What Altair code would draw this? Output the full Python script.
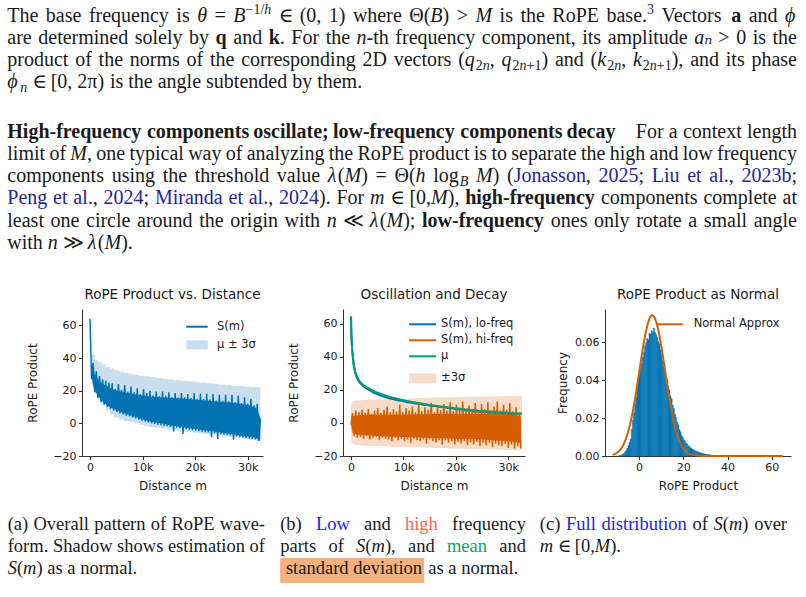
import altair as alt
import pandas as pd

SANS = "DejaVu Sans"
SERIF = "Liberation Serif, DejaVu Serif, serif"
INK = "#1a1a1a"
BLUE = "#0173B2"
ORANGE = "#D55E00"
GREEN = "#029E73"
BLUE_BAND = "#C9DFEE"
ORANGE_BAND = "#F7DCC8"

# ---------------- panel (a): RoPE product vs distance ----------------
s_vals = [64, 27, 37, 19, 32, 15.5, 29, 13, 27, 11.5,
          26, 10, 25, 9, 24.5, 7.8, 21, 7, 24, 6,
          20.5, 5.4, 23.5, 4.6, 19.5, 4.2, 22.5, 3.5, 19, 3.0,
          21.5, 2.2, 18, 1.6, 21, 1.2, 18.5, 0.6, 20, 0.0,
          17, -0.4, 19.5, -0.8, 16.5, -1.2, 19.5, -1.6, 16.8, -1.8,
          19, -2.2, 16, -5, 18.5, -2.7, 15.8, -3.0, 18.5, -6.5,
          16, -3.6, 18, -3.9, 15.5, -4.2, 18.5, -4.5, 15, -4.9,
          18.3, -5.1, 14.8, -5.4, 18.2, -5.6, 14.5, -8.5, 18, -6.1,
          14, -9.5, 17.5, -6.6, 13.8, -6.9, 17.5, -7.2, 13.5, -7.5,
          17.5, -10, 13, -8.1, 17, -8.4, 12.5, -8.7, 16, -8.9,
          12, -9.2, 15, -9.5, 11, -9.9, 12, -10.8, 3]
m_a = [i * 300 for i in range(len(s_vals))]

# dense (solid-looking) part of the S(m) waveform
core_a_m = [300, 600, 900, 1200, 1500, 2100, 2700, 3300, 4200, 5100, 6000, 7200, 8400,
            9600, 10800, 12000, 13500, 15000, 16500, 18000, 19500, 21000, 22500, 24000,
            25500, 27000, 28500, 30000, 31500, 32100, 32400]
core_a_hi = [36, 33, 30, 28.5, 27, 25, 23.5, 22.5, 21, 20, 19.5, 18.5, 17.8,
             17.2, 16.8, 16.3, 16, 15.6, 15.3, 15, 14.6, 14.2, 13.8, 13.4,
             13, 12.6, 12, 11.2, 9.5, 6, 3]
core_a_lo = [29, 23, 20, 18.5, 17, 14.5, 12.5, 11, 9.3, 8, 6.8, 5.4, 4.2,
             2.8, 1.8, 0.8, 0, -1, -1.8, -2.6, -3.2, -4, -4.6, -5.2,
             -5.9, -6.5, -7.4, -8.2, -8.9, -9.8, -10]

band_m = [300, 900, 1500, 2200, 3000, 3800, 4600, 5500, 6400, 7300, 8300, 9300,
          10300, 11400, 12500, 13600, 14800, 16000, 17200, 18400, 19600, 20800,
          22000, 23200, 24400, 25600, 26800, 28000, 29200, 30400, 31600, 32400]
band_hi = [42, 39, 37.5, 36, 34.5, 33.5, 32.5, 31.8, 31, 30.4, 29.8, 29.2,
           28.8, 28.3, 27.8, 27.3, 26.9, 26.4, 26.0, 25.7, 25.4, 25.0,
           24.6, 24.2, 23.8, 23.4, 23.0, 22.8, 22.5, 22.3, 22.1, 22.1]
band_lo = [24, 18, 14, 11, 8, 5.5, 3.5, 2.5, 1.5, 0.8, 0, -0.8,
           -1.6, -2.2, -2.7, -3.2, -3.8, -4.4, -5.0, -5.4, -5.8, -6.2,
           -6.6, -7.0, -7.5, -8.0, -8.5, -9.0, -9.6, -10.2, -10.8, -11.2]

# ---------------- panel (b): oscillation and decay ----------------
lo_m = [0, 50, 120, 200, 320, 500, 760, 1100, 1700, 2300, 3000, 3600, 4300, 5000,
        5700, 6400, 7400, 8200, 9000, 9800, 10600, 11400, 12200, 13000, 13800,
        14600, 15400, 16200, 17000, 17800, 18600, 19400, 20200, 21000, 21800,
        22600, 23300, 24100, 25000, 25800, 26500, 27300, 28000, 28800, 29700,
        30400, 31100, 31800, 32500]
lo_vals = [64.5, 56, 50, 45, 41, 35.5, 31, 27.5, 24.3, 22.4, 20.8, 19.8, 18.3, 17.6,
           16.4, 15.9, 14.8, 14.4, 13.6, 13.4, 12.6, 12.4, 11.8, 11.6, 11.0,
           10.9, 10.3, 10.2, 9.6, 9.5, 8.9, 8.8, 8.2, 8.1, 7.6,
           7.5, 7.0, 7.0, 6.6, 6.6, 6.2, 6.2, 5.9, 5.9, 5.6,
           5.6, 5.4, 5.4, 5.2]
mu_m = [0, 50, 120, 200, 320, 500, 760, 1100, 1700, 2300, 3000, 3800, 4600, 5500,
        6400, 7400, 8400, 9400, 10400, 11500, 12600, 13700, 14800, 16000, 17200,
        18400, 19600, 20800, 22000, 23200, 24400, 25600, 26800, 28000, 29200,
        30400, 31600, 32600]
mu_vals = [64.5, 56.5, 50.5, 45.5, 41.5, 36, 31.5, 28.2, 25, 23.2, 21.6, 20.2, 19, 17.8,
           16.8, 15.8, 15, 14.2, 13.5, 12.8, 12.2, 11.6, 11.0, 10.5, 10.0,
           9.5, 9.0, 8.6, 8.2, 7.8, 7.4, 7.1, 6.8, 6.5, 6.3,
           6.0, 5.8, 5.7]
hi_vals = [-1, 6, -8, 7.5, -9, 6.5, -8.5, 8, -9.5, 6,
           -8, 8.5, -10, 5.5, -9, 7.5, -8.5, 9, -10.5, 6,
           -9, 8, -9.5, 10, -10, 6.5, -11, 8.5, -9, 7,
           -10.5, 11, -9.5, 6.5, -11, 9, -10, 7.5, -12, 10,
           -9.5, 6.5, -10.5, 11.5, -11, 7, -10, 9.5, -12.5, 8,
           -10, 12, -11, 6.5, -12, 10, -10.5, 8, -13, 11.5,
           -10.5, 7.5, -12, 12.5, -11, 7, -13, 11, -11.5, 8.5,
           -12.5, 13, -11, 7.5, -13.5, 10.5, -12, 8, -13, 12,
           -11.5, 7, -14, 11.5, -12, 8.5, -13.5, 12.5, -12, 7.5,
           -14.5, 10, -12.5, 13, -13.5, 7.5, -14, 11, -12.5, 8,
           -15, 12, -13, 7, -15.5, 9.5, -14, 6, -15.5]
m_b = [i * 300 for i in range(len(hi_vals))]
# dense (solid-looking) part of the high-frequency waveform
core_b_m = [0, 300, 1000, 3000, 6000, 10000, 15000, 20000, 25000, 30000, 32400]
core_b_hi = [-1, 4, 4.5, 5, 5, 5, 5.5, 5.5, 5.5, 5.5, 4]
core_b_lo = [-1, -6, -7, -7.5, -8, -8.5, -9, -9.5, -10, -11, -12]
sig_m = [0, 80, 150, 250, 400, 600, 1000, 2000, 3000, 4500, 6000, 8000, 10000,
         12500, 15000, 17500, 20000, 22500, 25000, 27500, 30000, 32600]
sig_hi = [8.5, 10.5, 11.5, 12.2, 12.8, 13.2, 13.5, 13.8, 14.0, 14.2, 14.3, 14.5, 14.7,
          14.9, 15.2, 15.4, 15.6, 15.8, 16.0, 16.2, 16.4, 16.5]
sig_lo = [-8.5, -10.5, -11.5, -12.2, -12.7, -13.0, -13.3, -13.6, -13.8, -13.9, -14.0,
          -14.2, -14.5, -14.7, -15.0, -15.2, -15.5, -15.7, -15.9, -16.1, -16.3, -16.4]

# ---------------- panel (c): RoPE product as normal ----------------
hist_vals = [0.0002, 0.0004, 0.0006, 0.0010, 0.0015, 0.0022, 0.0030, 0.0042, 0.0056, 0.0072,
             0.0090, 0.0140, 0.0190, 0.0230, 0.0272, 0.0310, 0.0358, 0.0400, 0.0432, 0.0462,
             0.0488, 0.0522, 0.0548, 0.0581, 0.0598, 0.0621, 0.0612, 0.0648, 0.0641, 0.0662,
             0.0651, 0.0676, 0.0655, 0.0642, 0.0628, 0.0605, 0.0592, 0.0560, 0.0534, 0.0502,
             0.0472, 0.0450, 0.0418, 0.0402, 0.0368, 0.0349, 0.0318, 0.0302, 0.0268, 0.0251,
             0.0222, 0.0205, 0.0178, 0.0165, 0.0140, 0.0128, 0.0108, 0.0100, 0.0086, 0.0080,
             0.0068, 0.0064, 0.0054, 0.0051, 0.0043, 0.0041, 0.0034, 0.0033, 0.0028, 0.0027,
             0.0022, 0.0022, 0.0018, 0.0017, 0.0015, 0.0013, 0.0012, 0.0011, 0.0009, 0.0009,
             0.0007, 0.0007, 0.0006, 0.0005, 0.0004, 0.0004, 0.0003, 0.0003, 0.0002, 0.0002,
             0.0001]
hist_lo = [-9 + 0.5 * i for i in range(len(hist_vals))]
hist_hi = [v + 0.5 for v in hist_lo]
norm_x = [-12, -11, -10, -9, -8, -7, -6, -5, -4, -3, -2, -1, 0, 1, 2, 3, 4, 5, 6, 7, 8,
          9, 10, 11, 12, 13, 14, 15, 16, 17, 18, 19, 20, 21, 22, 24, 26, 30, 40, 50, 60, 65]
norm_y = [0.0006, 0.0010, 0.0017, 0.0026, 0.0040, 0.0060, 0.0088, 0.0123, 0.0168, 0.0223,
          0.0287, 0.0359, 0.0436, 0.0513, 0.0586, 0.0651, 0.0701, 0.0733, 0.0744, 0.0733,
          0.0701, 0.0651, 0.0586, 0.0513, 0.0436, 0.0359, 0.0287, 0.0223, 0.0168, 0.0123,
          0.0088, 0.0060, 0.0040, 0.0026, 0.0017, 0.0006, 0.0002, 0, 0, 0, 0, 0]

# ---------------- helpers ----------------
def title(t):
    return alt.TitleParams(text=t, font=SANS, fontSize=13.5, fontWeight="normal",
                           color=INK, anchor="middle", frame="group", offset=8)

def leg(x, y, path, offset):
    return alt.Legend(title=None, orient="none", legendX=x, legendY=y, symbolType=path,
                      symbolSize=324, symbolStrokeWidth=2, labelOffset=offset,
                      labelFont=SANS, labelFontSize=11.5, labelColor=INK,
                      padding=0, rowPadding=0, symbolOpacity=1)

K_LABEL = "datum.value == 0 ? '0' : format(datum.value / 1000, 'd') + 'k'"

def xdist(domain):
    return alt.X("m:Q", scale=alt.Scale(domain=domain, nice=False, zero=False),
                 axis=alt.Axis(values=[0, 10000, 20000, 30000], labelExpr=K_LABEL,
                               title="Distance m"))

def yrope(field, domain):
    return alt.Y(f"{field}:Q", scale=alt.Scale(domain=domain, nice=False, zero=False),
                 axis=alt.Axis(values=[-20, 0, 20, 40, 60], title="RoPE Product",
                               titlePadding=13))

LINE_A = "M-1.2,0H1.2"
RECT_A = "M-1.2,-0.5H1.2V0.5H-1.2Z"
LINE_B = "M-1.5,0H1.5"
RECT_B = "M-1.5,-0.55H1.5V0.55H-1.5Z"
LINE_C = "M-1.4,0H1.4"

# ---------------- panel (a) ----------------
D1X = [-1522, 32909]
D1Y = [-20, 70]
df_a = pd.DataFrame({"m": m_a, "v": s_vals, "k": "S(m)"})
df_ac = pd.DataFrame({"m": core_a_m, "hi": core_a_hi, "lo": core_a_lo})
df_ab = pd.DataFrame({"m": band_m, "hi": band_hi, "lo": band_lo, "k": "μ ± 3σ"})
a_band = alt.Chart(df_ab).mark_area(interpolate="step-after", opacity=1).encode(
    x=xdist(D1X), y=yrope("lo", D1Y), y2="hi:Q",
    fill=alt.Fill("k:N", scale=alt.Scale(domain=["μ ± 3σ"], range=[BLUE_BAND]),
                  legend=leg(105, 25.8, RECT_A, 10)))
a_core = alt.Chart(df_ac).mark_area(color=BLUE, opacity=1).encode(
    x=xdist(D1X), y=yrope("lo", D1Y), y2="hi:Q")
a_line = alt.Chart(df_a).mark_line(strokeWidth=1.5).encode(
    x=xdist(D1X), y=yrope("v", D1Y),
    stroke=alt.Stroke("k:N", scale=alt.Scale(domain=["S(m)"], range=[BLUE]),
                      legend=leg(105, 7.7, LINE_A, 10)))
p1 = alt.layer(a_band, a_core, a_line).properties(width=181, height=147,
                                                  title=title("RoPE Product vs. Distance"))

# ---------------- panel (b) ----------------
D2X = [-1526, 33187]
D2Y = [-20, 69]
SER = ["S(m), lo-freq", "S(m), hi-freq", "μ"]
stroke_b = dict(scale=alt.Scale(domain=SER, range=[BLUE, ORANGE, GREEN]),
                legend=leg(69.7, 5.3, LINE_B, 8.3))
df_sig = pd.DataFrame({"m": sig_m, "hi": sig_hi, "lo": sig_lo, "k": "±3σ"})
df_lo = pd.DataFrame({"m": lo_m, "v": lo_vals, "k": SER[0]})
df_hi = pd.DataFrame({"m": m_b, "v": hi_vals, "k": SER[1]})
df_bc = pd.DataFrame({"m": core_b_m, "hi": core_b_hi, "lo": core_b_lo})
df_mu = pd.DataFrame({"m": mu_m, "v": mu_vals, "k": SER[2]})
b_band = alt.Chart(df_sig).mark_area(opacity=1).encode(
    x=xdist(D2X), y=yrope("lo", D2Y), y2="hi:Q",
    fill=alt.Fill("k:N", scale=alt.Scale(domain=["±3σ"], range=[ORANGE_BAND]),
                  legend=leg(69.7, 59.3, RECT_B, 8.3)))
b_lo = alt.Chart(df_lo).mark_line(strokeWidth=2).encode(
    x=xdist(D2X), y=yrope("v", D2Y), stroke=alt.Stroke("k:N", **stroke_b))
b_core = alt.Chart(df_bc).mark_area(color=ORANGE, opacity=1).encode(
    x=xdist(D2X), y=yrope("lo", D2Y), y2="hi:Q")
b_hi = alt.Chart(df_hi).mark_line(strokeWidth=1.5).encode(
    x=xdist(D2X), y=yrope("v", D2Y), stroke=alt.Stroke("k:N", **stroke_b))
b_mu = alt.Chart(df_mu).mark_line(strokeWidth=2).encode(
    x=xdist(D2X), y=yrope("v", D2Y), stroke=alt.Stroke("k:N", **stroke_b))
p2 = alt.layer(b_band, b_lo, b_core, b_hi, b_mu).properties(
    width=182, height=147, title=title("Oscillation and Decay"))

# ---------------- panel (c) ----------------
D3X = [-15.37, 68.7]
D3Y = [0, 0.0776]
x3 = dict(scale=alt.Scale(domain=D3X, nice=False, zero=False),
          axis=alt.Axis(values=[0, 20, 40, 60], title="RoPE Product"))
y3 = dict(scale=alt.Scale(domain=D3Y, nice=False, zero=False),
          axis=alt.Axis(values=[0, 0.02, 0.04, 0.06], format=".2f", title="Frequency",
                        titlePadding=5))
df_h = pd.DataFrame({"x0": hist_lo, "x1": hist_hi, "d": hist_vals})
df_n = pd.DataFrame({"x0": norm_x, "d": norm_y, "k": "Normal Approx"})
c_hist = alt.Chart(df_h).mark_rect(color=BLUE, stroke=BLUE, strokeWidth=0.4).encode(
    x=alt.X("x0:Q", **x3), x2="x1:Q", y=alt.Y("d:Q", **y3), y2=alt.datum(0))
c_norm = alt.Chart(df_n).mark_line(strokeWidth=2).encode(
    x=alt.X("x0:Q", **x3), y=alt.Y("d:Q", **y3),
    stroke=alt.Stroke("k:N", scale=alt.Scale(domain=["Normal Approx"], range=[ORANGE]),
                      legend=leg(55.2, 5.3, LINE_C, 13.5)))
p3 = alt.layer(c_hist, c_norm).properties(width=186, height=147,
                                          title=title("RoPE Product as Normal"))

# ---------------- surrounding paper text (justified like the page) ----------------
def _tab(spec):
    out = {}
    for chars, w in spec:
        for ch in chars:
            out[ch] = w / 1000
    return out

W = {
    "n": _tab([(" ,.", 250), ("()-[]!", 333), ("/:;", 278), ("+=<>−", 564), ("0123456789", 500),
               ("AHDGKNOQUVXY", 722), ("BCR", 667), ("ELTZ", 611), ("FPS", 556), ("I", 333),
               ("J", 389), ("M", 889), ("W", 944), ("acez", 444), ("bdghknopquvxy", 500),
               ("f r", 333), ("ijlt", 278), ("m", 778), ("s", 389), ("w", 722),
               ("∈", 667), ("≪≫", 1000), ("Θ", 722), ("π", 550), ("θλ", 500), ("ϕ", 600),
               ("\u2002", 500), ("ₙ", 380)]),
    "i": _tab([("abdghnopqu", 500), ("ce", 444), ("f", 278), ("ijlt", 278), ("kvy", 444),
               ("m", 722), ("rs", 389), ("w", 667), ("x", 444), ("z", 389), ("B", 611),
               ("M", 833), ("S", 500), ("ₙ", 380)]),
    "b": _tab([("a", 500), ("bdhknpqu", 556), ("ce", 444), ("f", 333), ("g", 500),
               ("ilt", 278), ("j", 333), ("m", 833), ("o", 500), ("r", 444), ("s", 389),
               ("vxy", 500), ("w", 722), ("z", 444), ("H", 778), ("-", 333), (";", 333),
               (" ", 250)]),
}

def cw(ch, st):
    return W[st].get(ch, W["n"].get(ch, 0.5))

BODY, CAP = 20, 18.5
LINK = "#25259c"
CBLUE, CORANGE, CGREEN = "#2323ee", "#f26a4f", "#10a060"
SUBKERN = 0.05
segs = []

def r(t, c=INK):
    return (t, "n", 1.0, 0.0, c)

def it(t):
    return (t, "i", 1.0, 0.0, INK)

def bd(t):
    return (t, "b", 1.0, 0.0, INK)

def lk(t):
    return (t, "n", 1.0, 0.0, LINK)

def sub(t, st="n"):
    return (t, st, 0.7, 0.2, INK)

def sup(t, st="n", c=INK):
    return (t, st, 0.7, -0.4, c)

def ws(text, maker=r):
    return [[maker(w)] for w in text.split()]

def run_w(run, size, first_sub=False):
    t, st, rs, dy, c = run
    w = sum(cw(ch, st) for ch in t) * rs * size
    if first_sub:
        w += SUBKERN * size
    return w

def place(words, left, right, y, size, justify=True):
    def word_runs(w):
        out, prev_sub = [], False
        for rn in w:
            is_sub = rn[3] > 0
            out.append((rn, is_sub and not prev_sub))
            prev_sub = is_sub
        return out
    widths = [sum(run_w(rn, size, fs) for rn, fs in word_runs(w)) for w in words]
    n = len(words)
    gap = (right - left - sum(widths)) / (n - 1) if (justify and n > 1) else 0.25 * size
    x = left
    for w, wd in zip(words, widths):
        xx = x
        for rn, fs in word_runs(w):
            t, st, rs, dy, c = rn
            shift = SUBKERN * size if fs else 0
            if t.strip():
                segs.append((xx + shift, y + dy * size, t, st, rs * size, c))
            xx += run_w(rn, size, fs)
        x += wd + gap

LEFT, RIGHT = 7.3, 797
L = [21.5, 43.7, 65.9, 88.1]
P = [137.5, 159.8, 182.1, 204.4, 226.7, 249.0]
C = [530, 552, 574]

place(ws("The base frequency is") + [[it("θ")], [r("=")], [it("B"), sup("−1/"), sup("h", "i")],
      [r("∈")], [r("(0,")], [r("1)")], [r("where")], [r("Θ("), it("B"), r(")")], [r(">")],
      [it("M")]] + ws("is the RoPE") + [[r("base."), sup("3", c=LINK)], [r("Vectors")],
      [bd("a")], [r("and")], [it("ϕ")]], LEFT, RIGHT, L[0], BODY)
place(ws("are determined solely by") + [[bd("q")], [r("and")], [bd("k"), r(".")], [r("For")],
      [r("the")], [it("n"), r("-th")]] + ws("frequency component, its amplitude") +
      [[it("aₙ")], [r(">")], [r("0")], [r("is")], [r("the")]],
      LEFT, RIGHT, L[1], BODY)
place(ws("product of the norms of the corresponding 2D vectors") +
      [[r("("), it("q"), sub("2"), sub("n", "i"), r(",")],
       [it("q"), sub("2"), sub("n", "i"), sub("+1"), r(")")], [r("and")],
       [r("("), it("k"), sub("2"), sub("n", "i"), r(",")],
       [it("k"), sub("2"), sub("n", "i"), sub("+1"), r("),")]] + ws("and its phase"),
      LEFT, RIGHT, L[2], BODY)
place([[it("ϕ"), sub("n", "i")], [r("∈")], [r("[0,")], [r("2π)")]] +
      ws("is the angle subtended by them."), LEFT, RIGHT, L[3], BODY, justify=False)

place(ws("High-frequency components oscillate; low-frequency components decay", bd) +
      [[r("\u2002")]] + ws("For a context length"), LEFT, RIGHT, P[0], BODY)
place(ws("limit of") + [[it("M"), r(",")]] +
      ws("one typical way of analyzing the RoPE product is to separate the high and low frequency"),
      LEFT, RIGHT, P[1], BODY)
place(ws("components using the threshold value") +
      [[it("λ"), r("("), it("M"), r(")")], [r("=")], [r("Θ("), it("h")], [r("log"), sub("B", "i")],
       [it("M"), r(")")], [r("("), lk("Jonasson"), r(",")], [lk("2025"), r(";")], [lk("Liu")],
       [lk("et")], [lk("al."), r(",")], [lk("2023b"), r(";")]], LEFT, RIGHT, P[2], BODY)
place([[lk("Peng")], [lk("et")], [lk("al."), r(",")], [lk("2024"), r(";")], [lk("Miranda")],
       [lk("et")], [lk("al."), r(",")], [lk("2024"), r(").")], [r("For")], [it("m")], [r("∈")],
       [r("[0,"), it("M"), r("),")], [bd("high-frequency")]] + ws("components complete at"),
      LEFT, RIGHT, P[3], BODY)
place(ws("least one circle around the origin with") +
      [[it("n")], [r("≪")], [it("λ"), r("("), it("M"), r(");")], [bd("low-frequency")]] +
      ws("ones only rotate a small angle"), LEFT, RIGHT, P[4], BODY)
place([[r("with")], [it("n")], [r("≫")], [it("λ"), r("("), it("M"), r(").")]],
      LEFT, RIGHT, P[5], BODY, justify=False)

# captions
SM = [it("S"), r("("), it("m"), r(")")]
place(ws("(a) Overall pattern of RoPE wave-"), 7.7, 265, C[0], CAP)
place(ws("form. Shadow shows estimation of"), 7.7, 265, C[1], CAP)
place([SM] + ws("as a normal."), 7.7, 265, C[2], CAP, justify=False)
place([[r("(b)")], [r("Low", CBLUE)], [r("and")], [r("high", CORANGE)], [r("frequency")]],
      280.2, 526, C[0], CAP)
place([[r("parts")], [r("of")], [it("S"), r("("), it("m"), r("),")], [r("and")],
       [r("mean", CGREEN)], [r("and")]], 280.2, 526, C[1], CAP)
place(ws("standard deviation"), 285.9, 526, C[2], CAP, justify=False)
place(ws("as a normal."), 428.3, 526, C[2], CAP, justify=False)
place([[r("(c)")], [r("Full", CBLUE)], [r("distribution", CBLUE)], [r("of")], SM, [r("over")]],
      539.8, 787, C[0], CAP)
place([[it("m")], [r("∈")], [r("[0,"), it("M"), r(").")]], 539.8, 787, C[1], CAP, justify=False)

OY = 309  # page y of the plot row's top edge

def text_layer(style):
    rows = [(x, y - OY, t, sz, c) for (x, y, t, st, sz, c) in segs if st == style]
    df = pd.DataFrame(rows, columns=["x", "y", "t", "s", "c"])
    kw = {}
    if style == "i":
        kw["fontStyle"] = "italic"
    if style == "b":
        kw["fontWeight"] = "bold"
    return alt.Chart(df).mark_text(align="left", baseline="alphabetic", font=SERIF, **kw).encode(
        x=alt.X("x:Q", scale=None, axis=None),
        y=alt.Y("y:Q", scale=None, axis=None),
        text="t:N",
        size=alt.Size("s:Q", scale=None, legend=None),
        color=alt.Color("c:N", scale=None, legend=None))

one = pd.DataFrame({"k": [0]})
page = alt.Chart(one).mark_rect(fill="white").encode(
    x=alt.value(0), x2=alt.value(806), y=alt.value(-OY), y2=alt.value(597 - OY))
hl_box = alt.Chart(one).mark_rect(fill="#F6B07C").encode(
    x=alt.value(280.2), x2=alt.value(424.2), y=alt.value(558 - OY), y2=alt.value(583 - OY))
text_chart = alt.layer(page, hl_box, text_layer("n"), text_layer("i"), text_layer("b")).properties(
    width=2, height=147)

chart = alt.hconcat(text_chart, p1, p2, p3, spacing=80, bounds="flush", padding=0,
                    background="white").resolve_scale(
    stroke="independent", fill="independent").resolve_legend(
    stroke="independent", fill="independent").configure_view(stroke=None).configure_axis(
    labelFont=SANS, titleFont=SANS, labelFontSize=11, titleFontSize=12,
    titleFontWeight="normal", labelColor=INK, titleColor=INK, domainColor=INK,
    tickColor=INK, tickSize=3.5, domainWidth=0.9, tickWidth=0.9, grid=False
).configure_axisX(labelPadding=1.5, titlePadding=8).configure_axisY(labelPadding=2.5)

chart.save("out.html", embed_options={"renderer": "svg", "actions": False})
